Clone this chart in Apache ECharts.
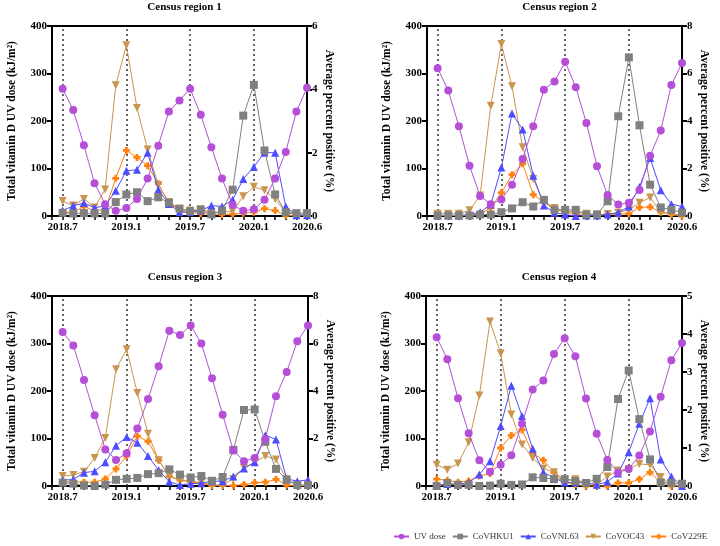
<!DOCTYPE html>
<html>
<head>
<meta charset="utf-8">
<script src="https://cdn.jsdelivr.net/npm/echarts@6/dist/echarts.min.js"></script>
<style>
  html, body { margin: 0; padding: 0; background: #fff; }
  #chart { width: 720px; height: 546px; }
</style>
</head>
<body>
<div id="chart"></div>
<script>
// months on the x axis, one point per month
const months = ['2018.7', '2018.8', '2018.9', '2018.10', '2018.11', '2018.12',
  '2019.1', '2019.2', '2019.3', '2019.4', '2019.5', '2019.6',
  '2019.7', '2019.8', '2019.9', '2019.10', '2019.11', '2019.12',
  '2020.1', '2020.2', '2020.3', '2020.4', '2020.5', '2020.6']
const tickMonths = ['2018.7', '2019.1', '2019.7', '2020.1', '2020.6']
const dottedMonths = ['2018.7', '2019.1', '2019.7', '2020.1']
const seriesNames = ['UV dose', 'CoVHKU1', 'CoVNL63', 'CoVOC43', 'CoV229E']

// region 1 (UV in kJ/m2, the rest in %)
const r1Uv = [268, 223, 149, 69, 25, 11, 17, 36, 79, 148, 220, 243, 268, 213, 145, 79, 23, 11, 14, 34, 79, 135, 220, 270]
const r1Hku1 = [0.1, 0.08, 0.09, 0.08, 0.08, 0.44, 0.68, 0.75, 0.47, 0.59, 0.42, 0.23, 0.15, 0.2, 0.05, 0.17, 0.83, 3.17, 4.14, 2.07, 0.68, 0.12, 0.09, 0.09]
const r1Nl63 = [0.17, 0.32, 0.41, 0.26, 0.32, 0.8, 1.43, 1.46, 2.0, 0.83, 0.38, 0.12, 0.12, 0.17, 0.33, 0.3, 0.51, 1.17, 1.55, 2.0, 2.0, 0.3, 0.02, 0.02]
const r1Oc43 = [0.47, 0.33, 0.54, 0.27, 0.84, 4.13, 5.39, 3.41, 2.1, 0.98, 0.44, 0.23, 0.17, 0.21, 0.12, 0.12, 0.15, 0.62, 0.92, 0.81, 0.54, 0.11, 0.05, 0.03]
const r1E229 = [0.12, 0.12, 0.3, 0.17, 0.2, 1.19, 2.07, 1.85, 1.59, 1.02, 0.41, 0.17, 0.12, 0.08, 0.05, 0.05, 0.06, 0.09, 0.12, 0.23, 0.17, 0.02, 0.02, 0.02]

// region 2
const r2Uv = [311, 264, 189, 106, 42, 25, 35, 66, 120, 189, 266, 283, 325, 271, 196, 105, 44, 24, 28, 55, 127, 180, 276, 322]
const r2Hku1 = [0.02, 0.02, 0.02, 0.02, 0.06, 0.06, 0.16, 0.32, 0.58, 0.4, 0.68, 0.26, 0.26, 0.26, 0.06, 0.06, 0.62, 4.2, 6.68, 3.82, 1.32, 0.36, 0.26, 0.14]
const r2Nl63 = [0.02, 0.02, 0.02, 0.06, 0.16, 0.48, 2.04, 4.32, 3.64, 1.7, 0.44, 0.14, 0.06, 0, 0.02, 0.02, 0.06, 0.14, 0.4, 1.22, 2.44, 1.08, 0.5, 0.4]
const r2Oc43 = [0.1, 0.1, 0.1, 0.24, 0.86, 4.64, 7.24, 5.46, 2.9, 1.56, 0.56, 0.34, 0.22, 0.16, 0.1, 0.06, 0.08, 0.14, 0.26, 0.56, 0.78, 0.16, 0.1, 0.02]
const r2E229 = [0.02, 0.02, 0.02, 0.02, 0.08, 0.34, 0.98, 1.74, 2.2, 0.9, 0.58, 0.28, 0.16, 0.08, 0.02, 0.02, 0.08, 0.08, 0.1, 0.36, 0.38, 0.16, 0.06, 0]

// region 3
const r3Uv = [324, 296, 223, 149, 77, 55, 69, 121, 183, 252, 327, 318, 338, 300, 227, 150, 75, 52, 59, 99, 189, 240, 305, 338]
const r3Hku1 = [0.14, 0.1, 0.02, 0, 0.06, 0.26, 0.3, 0.34, 0.5, 0.54, 0.7, 0.48, 0.36, 0.42, 0.22, 0.38, 1.52, 3.2, 3.22, 1.86, 0.72, 0.26, 0.04, 0.04]
const r3Nl63 = [0.24, 0.28, 0.56, 0.62, 1.0, 1.7, 2.06, 1.82, 1.26, 0.66, 0.18, 0.04, 0.1, 0.12, 0.2, 0.2, 0.4, 0.74, 1.0, 2.14, 1.96, 0.3, 0.2, 0.26]
const r3Oc43 = [0.42, 0.46, 0.6, 1.18, 2.02, 4.92, 5.76, 3.92, 2.2, 1.08, 0.42, 0.26, 0.2, 0.14, 0.06, 0.04, 0.3, 0.76, 1.0, 1.26, 1.12, 0.28, 0.02, 0.02]
const r3E229 = [0.18, 0.18, 0.16, 0.16, 0.3, 0.72, 1.26, 2.1, 1.88, 1.08, 0.4, 0.24, 0.18, 0.1, 0.02, 0.02, 0.02, 0.06, 0.14, 0.16, 0.28, 0.04, 0, 0]

// region 4
const r4Uv = [313, 267, 185, 111, 54, 30, 45, 65, 131, 203, 222, 278, 311, 273, 184, 110, 55, 28, 36, 64, 115, 188, 265, 301]
const r4Hku1 = [0, 0.08, 0.03, 0.03, 0, 0.01, 0.06, 0.03, 0.04, 0.23, 0.21, 0.18, 0.18, 0.13, 0.08, 0.19, 0.5, 2.29, 3.04, 1.76, 0.7, 0.09, 0.08, 0.06]
const r4Nl63 = [0, 0.05, 0.04, 0.09, 0.3, 0.65, 1.58, 2.64, 1.84, 0.98, 0.36, 0.21, 0.09, 0.09, 0.08, 0.03, 0.11, 0.33, 0.89, 1.64, 2.31, 0.7, 0.25, 0]
const r4Oc43 = [0.56, 0.43, 0.59, 1.15, 2.38, 4.33, 3.49, 1.88, 1.09, 0.74, 0.46, 0.36, 0.16, 0.18, 0.08, 0.04, 0.25, 0.41, 0.45, 0.58, 0.56, 0.24, 0.04, 0]
const r4E229 = [0.18, 0.15, 0.1, 0.13, 0.26, 0.33, 1.0, 1.33, 1.48, 0.86, 0.68, 0.35, 0.1, 0.04, 0, 0, 0, 0.08, 0.08, 0.18, 0.36, 0.1, 0, 0]

const regions = [
  { title: 'Census region 1', rightMax: 6, rightStep: 2, data: [r1Uv, r1Hku1, r1Nl63, r1Oc43, r1E229], box: [52, 26, 255, 190] },
  { title: 'Census region 2', rightMax: 8, rightStep: 2, data: [r2Uv, r2Hku1, r2Nl63, r2Oc43, r2E229], box: [427, 26, 255, 190] },
  { title: 'Census region 3', rightMax: 8, rightStep: 2, data: [r3Uv, r3Hku1, r3Nl63, r3Oc43, r3E229], box: [52, 296, 256, 190] },
  { title: 'Census region 4', rightMax: 5, rightStep: 1, data: [r4Uv, r4Hku1, r4Nl63, r4Oc43, r4E229], box: [426, 296, 256, 190] }
]

const colors = ['#B54FD8', '#808080', '#4D4DFF', '#C8964E', '#FF8210']
const symbols = ['circle', 'rect', 'triangle', 'triangle', 'path://M3,0H7V3H10V7H7V10H3V7H0V3H3Z']
const symbolSizes = [8, 8, 8, 8, 7]
const symbolRotates = [0, 0, 0, 180, 0]

const font = 'Liberation Serif'
const boldText = { fontFamily: font, fontWeight: 'bold', fontSize: 11, color: '#000' }

const chart = echarts.init(document.getElementById('chart'), null, { renderer: 'canvas' })

const title = []
const grid = []
const xAxis = []
const yAxis = []
const series = []

regions.forEach((r, i) => {
  const [left, top, width, height] = r.box
  title.push({
    text: r.title,
    left: left + width / 2,
    top: top - 29,
    textAlign: 'center',
    textStyle: { fontFamily: font, fontWeight: 'bold', fontSize: 11, color: '#000' }
  })
  grid.push({
    left, top, width, height,
    show: true,
    borderColor: '#000',
    borderWidth: 2,
    backgroundColor: 'transparent'
  })
  xAxis.push({
    type: 'value',
    gridIndex: i,
    min: -1,
    max: 23,
    interval: 1,
    splitLine: { show: false },
    axisLine: { onZero: false, lineStyle: { color: '#000', width: 2 } },
    axisTick: { length: 4, lineStyle: { color: '#000', width: 1.5 } },
    axisLabel: {
      ...boldText,
      margin: 6,
      formatter: v => (tickMonths.includes(months[v]) ? months[v] : '')
    }
  })
  yAxis.push({
    type: 'value',
    gridIndex: i,
    position: 'left',
    min: 0,
    max: 400,
    interval: 100,
    name: 'Total vitamin D UV dose (kJ/m²)',
    nameLocation: 'middle',
    nameGap: 34,
    nameTextStyle: { ...boldText, fontSize: 11.5 },
    splitLine: { show: false },
    axisLine: { show: true, onZero: false, lineStyle: { color: '#000', width: 2 } },
    axisTick: { show: true, length: 5, lineStyle: { color: '#000', width: 2 } },
    axisLabel: { ...boldText, margin: 5 }
  })
  yAxis.push({
    type: 'value',
    gridIndex: i,
    position: 'right',
    min: 0,
    max: r.rightMax,
    interval: r.rightStep,
    name: 'Average percent positive (%)',
    nameLocation: 'middle',
    nameRotate: -90,
    nameGap: 16,
    nameTextStyle: { ...boldText, fontSize: 11.5 },
    splitLine: { show: false },
    axisLine: { show: true, onZero: false, lineStyle: { color: '#000', width: 2 } },
    axisTick: { show: true, length: 5, lineStyle: { color: '#000', width: 2 } },
    axisLabel: { ...boldText, margin: 5 }
  })

  r.data.forEach((vals, k) => {
    const s = {
      name: seriesNames[k],
      type: 'line',
      xAxisIndex: i,
      yAxisIndex: i * 2 + (k === 0 ? 0 : 1),
      data: vals.map((v, m) => [m, v]),
      symbol: symbols[k],
      symbolSize: symbolSizes[k],
      symbolRotate: symbolRotates[k],
      showAllSymbol: true,
      color: colors[k],
      lineStyle: { width: 1, color: colors[k] },
      itemStyle: { color: colors[k] },
      z: 10 - k
    }
    if (k === 0) {
      s.markLine = {
        silent: true,
        symbol: 'none',
        label: { show: false },
        lineStyle: { type: [2, 3], color: '#333', width: 1.5 },
        data: dottedMonths.map(m => ({ xAxis: months.indexOf(m) }))
      }
    }
    series.push(s)
  })
})

chart.setOption({
  animation: false,
  backgroundColor: '#fff',
  title,
  legend: {
    data: seriesNames,
    left: 388,
    top: 527,
    width: 400,
    itemGap: 6,
    itemWidth: 15,
    itemHeight: 7,
    textStyle: { fontFamily: font, fontSize: 9, color: '#333' }
  },
  grid,
  xAxis,
  yAxis,
  series
})
</script>
</body>
</html>
